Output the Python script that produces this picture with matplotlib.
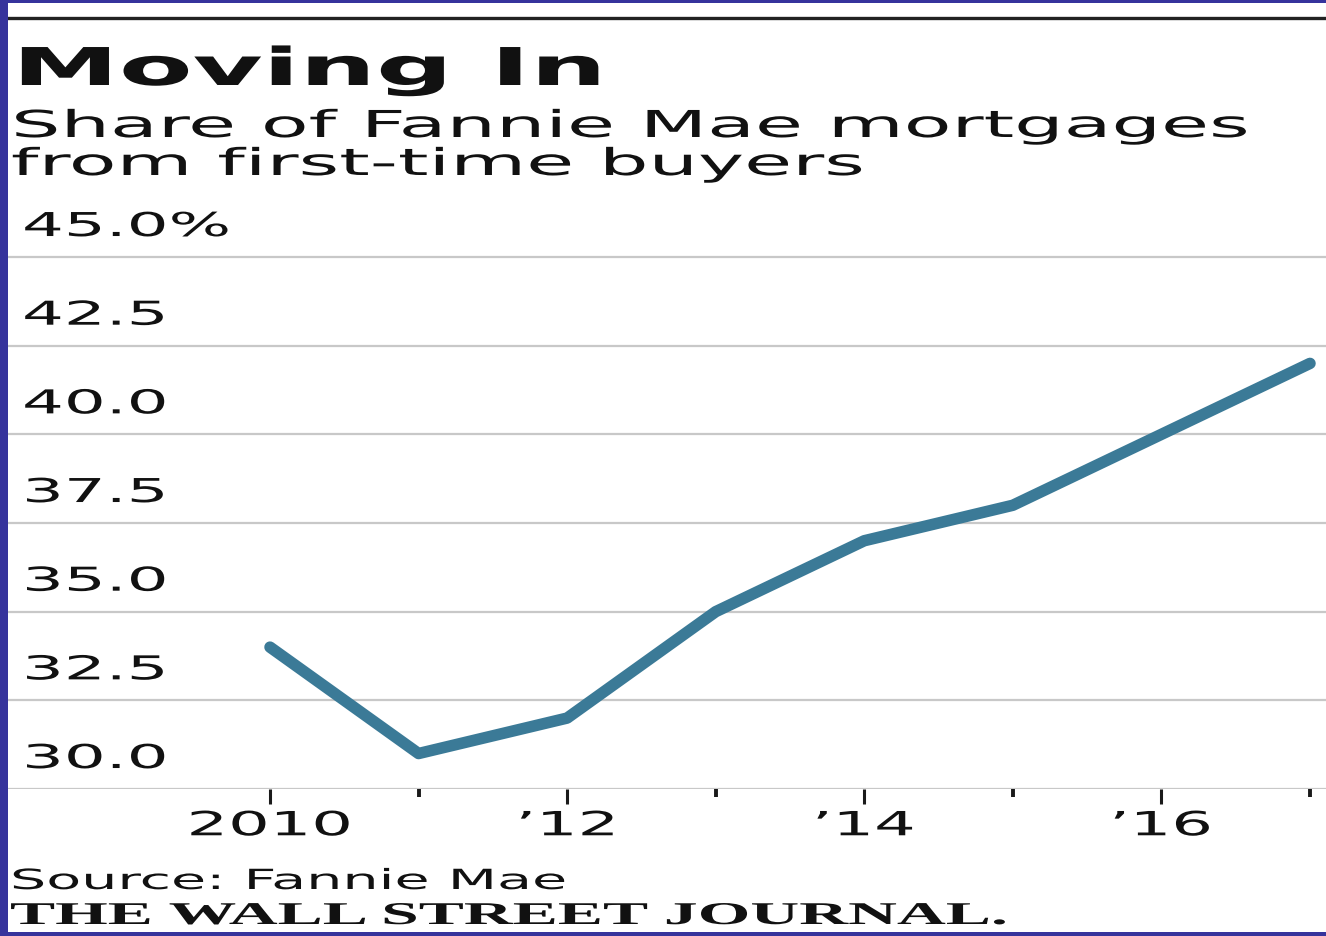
import matplotlib
matplotlib.use("Agg")
import matplotlib.pyplot as plt
from matplotlib import patheffects
from matplotlib.transforms import Affine2D
from matplotlib.patches import Rectangle
from matplotlib.lines import Line2D

# ---------------- data ----------------
years = [2010, 2011, 2012, 2013, 2014, 2015, 2016, 2017]
share = [34.0, 31.0, 32.0, 35.0, 37.0, 38.0, 40.0, 42.0]

ytick_values = [30.0, 32.5, 35.0, 37.5, 40.0, 42.5, 45.0]
ytick_labels = ["30.0", "32.5", "35.0", "37.5", "40.0", "42.5", "45.0%"]

xmajor_ticks = [2010, 2012, 2014, 2016]
xmajor_labels = ["2010", "\u201912", "\u201914", "\u201916"]
xminor_ticks = [2011, 2013, 2015, 2017]

title = "Moving In"
subtitle1 = "Share of Fannie Mae mortgages"
subtitle2 = "from first-time buyers"
source = "Source: Fannie Mae"
credit = "THE WALL STREET JOURNAL."

# ---------------- helpers ----------------
W, H = 1326, 936


def fx(px):
    return px / W


def fy(py):
    return 1 - py / H


class Stretch(patheffects.AbstractPathEffect):
    """Horizontally widen glyphs (the reference uses an extended typeface)."""

    def __init__(self, sx, anchor="left"):
        super().__init__()
        self.sx = sx
        self.anchor = anchor

    def draw_path(self, renderer, gc, tpath, affine, rgbFace=None):
        ext = tpath.get_extents()
        if self.anchor == "center":
            cx = (ext.x0 + ext.x1) / 2
        elif self.anchor == "right":
            cx = ext.x1
        else:
            cx = 0
        t = Affine2D().translate(-cx, 0).scale(self.sx, 1).translate(cx, 0) + affine
        renderer.draw_path(gc, tpath, t, rgbFace)


fig = plt.figure(figsize=(W / 100, H / 100), dpi=100)
fig.patch.set_facecolor("white")
renderer = fig.canvas.get_renderer()


def natural_width(s, **props):
    t = fig.text(0, 0, s, **props)
    w = t.get_window_extent(renderer).width
    t.remove()
    return w


TXT = "#111111"
sans = "DejaVu Sans"

# ---------------- axes ----------------
px_per_unit = (789 - 257) / 15.0
top_px = 789 - px_per_unit * 16
ax = fig.add_axes([fx(7), fy(789), fx(1326) - fx(7), fy(top_px) - fy(789)])
px_per_year = (1310 - 270) / 7.0
ax.set_xlim(2010 - (270 - 7) / px_per_year, 2017 + (1326 - 1310) / px_per_year)
ax.set_ylim(30, 46)
ax.set_facecolor("none")
for s in ax.spines.values():
    s.set_visible(False)

ax.set_yticks(ytick_values)
ax.tick_params(axis="y", left=False, labelleft=False)
ax.grid(axis="y", color="#c8c8c8", linewidth=1.6)
ax.grid(axis="x", visible=False)
ax.set_axisbelow(True)

ax.plot(years, share, color="#3b7a97", linewidth=8.3,
        solid_capstyle="round", solid_joinstyle="round", zorder=3,
        clip_on=False)

# x ticks
ax.set_xticks(xmajor_ticks)
ax.set_xticklabels(xmajor_labels)
ax.set_xticks(xminor_ticks, minor=True)
ax.tick_params(axis="x", which="major", direction="out", length=10.8,
               width=2.2, color="#1a1a1a", pad=3.8, labelsize=24,
               labelcolor=TXT)
ax.tick_params(axis="x", which="minor", direction="out", length=5.5,
               width=2.8, color="#1a1a1a")
sx_x = 167 / natural_width("2010", fontsize=24, family=sans)
for lab in ax.get_xticklabels():
    lab.set_family(sans)
    lab.set_path_effects([Stretch(sx_x, "center")])

# y labels, sitting above their gridlines
sx_y = 146 / natural_width("40.0", fontsize=23.7, family=sans)
for v, lab in zip(ytick_values, ytick_labels):
    ax.annotate(lab, xy=(0, v), xycoords=ax.get_yaxis_transform(),
                xytext=(10.8, 15.1), textcoords="offset points",
                ha="left", va="baseline", fontsize=23.7, family=sans,
                color=TXT, path_effects=[Stretch(sx_y, "left")])

# ---------------- header / footer text ----------------
sx_t = 595 / natural_width(title, fontsize=37.5, family=sans, fontweight="bold")
fig.text(fx(12), fy(85), title, fontsize=37.5, family=sans, fontweight="bold",
         color=TXT, ha="left", va="baseline",
         path_effects=[Stretch(sx_t, "left")])

sx_s = 1240 / natural_width(subtitle1, fontsize=26.7, family=sans)
fig.text(fx(11), fy(137), subtitle1, fontsize=26.7, family=sans, color=TXT,
         ha="left", va="baseline", path_effects=[Stretch(sx_s, "left")])
fig.text(fx(11), fy(175), subtitle2, fontsize=26.7, family=sans, color=TXT,
         ha="left", va="baseline", path_effects=[Stretch(sx_s, "left")])

sx_src = 557 / natural_width(source, fontsize=20, family=sans)
fig.text(fx(10), fy(889), source, fontsize=20, family=sans, color=TXT,
         ha="left", va="baseline", path_effects=[Stretch(sx_src, "left")])

sx_c = 995 / natural_width(credit, fontsize=22.8, family="Liberation Serif",
                           fontweight="bold")
fig.text(fx(10), fy(924), credit, fontsize=22.8, family="Liberation Serif",
         fontweight="bold", color="#111111", ha="left", va="baseline",
         path_effects=[Stretch(sx_c, "left")])

# ---------------- rule and frame ----------------
fig.add_artist(Line2D([fx(7), 1], [fy(18), fy(18)], transform=fig.transFigure,
                      color="#222222", linewidth=2.4))
frame = "#36339c"
fig.add_artist(Rectangle((0, 0), fx(8), 1, transform=fig.transFigure,
                         facecolor=frame, edgecolor="none", zorder=10))
fig.add_artist(Rectangle((0, fy(3)), 1, 1 - fy(3), transform=fig.transFigure,
                         facecolor=frame, edgecolor="none", zorder=10))
fig.add_artist(Rectangle((0, 0), 1, 1 - fy(4), transform=fig.transFigure,
                         facecolor=frame, edgecolor="none", zorder=10))

fig.savefig("out.png", dpi=100, facecolor="white")
